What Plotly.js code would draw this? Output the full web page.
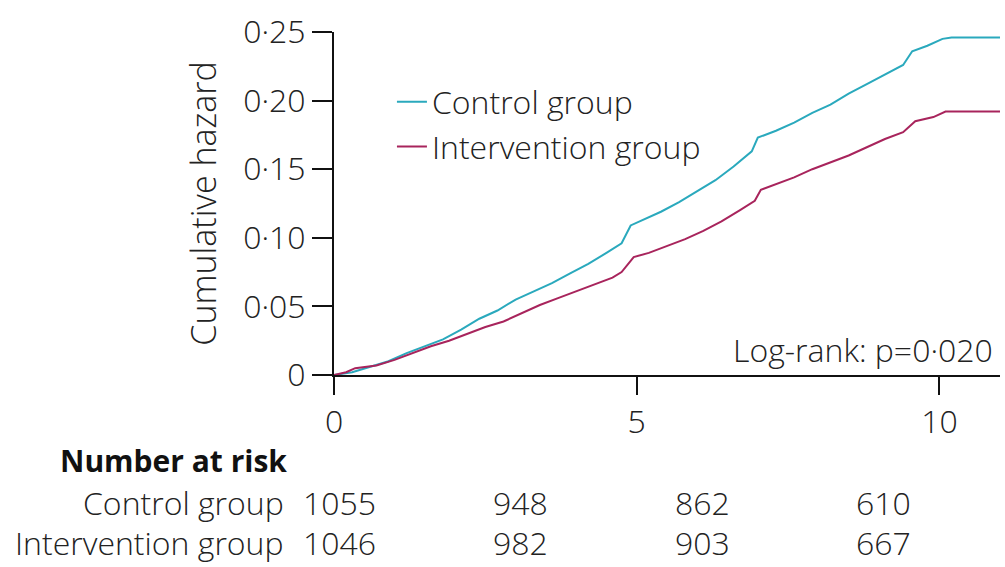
<!DOCTYPE html>
<html>
<head>
<meta charset="utf-8">
<script src="https://cdn.plot.ly/plotly-3.0.1.min.js"></script>
<style>html,body{margin:0;padding:0;background:#fff;}#chart{width:1005px;height:567px;}</style>
</head>
<body>
<div id="chart"></div>
<script>
// Cumulative hazard (years vs hazard)
const controlYears = [0,0.3,0.6,0.9,1.2,1.5,1.8,2.1,2.4,2.7,3.0,3.3,3.6,3.9,4.2,4.5,4.75,4.9,5.1,5.4,5.7,6.0,6.3,6.6,6.9,7.0,7.3,7.6,7.9,8.2,8.5,8.8,9.1,9.4,9.55,9.8,10.05,10.2,11];
const controlHazard = [0,0.002,0.006,0.010,0.016,0.021,0.026,0.033,0.041,0.047,0.055,0.061,0.067,0.074,0.081,0.089,0.096,0.109,0.113,0.119,0.126,0.134,0.142,0.152,0.163,0.173,0.178,0.184,0.191,0.197,0.205,0.212,0.219,0.226,0.236,0.240,0.245,0.246,0.246];
const interventionYears = [0,0.2,0.35,0.7,1.0,1.3,1.6,1.9,2.2,2.5,2.8,3.1,3.4,3.7,4.0,4.3,4.6,4.75,4.95,5.2,5.5,5.8,6.1,6.4,6.7,6.95,7.05,7.3,7.6,7.9,8.2,8.5,8.8,9.1,9.4,9.6,9.9,10.1,11];
const interventionHazard = [0,0.002,0.005,0.007,0.011,0.016,0.021,0.025,0.030,0.035,0.039,0.045,0.051,0.056,0.061,0.066,0.071,0.075,0.086,0.089,0.094,0.099,0.105,0.112,0.120,0.127,0.135,0.139,0.144,0.150,0.155,0.160,0.166,0.172,0.177,0.185,0.188,0.192,0.192];

const yTickVals = [0,0.05,0.10,0.15,0.20,0.25];
const yTickText = ['0','0·05','0·10','0·15','0·20','0·25'];
const xTickVals = [0,5,10];

const riskTimes = [0,3,6,9];
const riskControl = [1055,948,862,610];
const riskIntervention = [1046,982,903,667];
const groupNames = ['Control group','Intervention group'];
const pValueText = 'Log-rank: p=0·020';

const FONT = '"Open Sans", "Noto Sans", sans-serif';
const TXT = '#222';
const FS = 32;
const teal = '#2aa9bd';
const crimson = '#a8245c';
const f = (extra) => Object.assign({family:FONT, size:FS, color:TXT, weight:300}, extra||{});

const traces = [
  {x: controlYears, y: controlHazard, mode:'lines', name: groupNames[0], line:{color:teal, width:2}},
  {x: interventionYears, y: interventionHazard, mode:'lines', name: groupNames[1], line:{color:crimson, width:2}}
];

const row1 = -0.372, row2 = -0.487;
const ann = [];
ann.push({text: pValueText, xref:'paper', yref:'paper', x:0.993, y:0.075, xanchor:'right', yanchor:'middle', showarrow:false, font:f()});
ann.push({text:'<b>Number at risk</b>', xref:'paper', yref:'paper', x:-0.415, y:-0.248, xanchor:'left', yanchor:'middle', showarrow:false, font:{family:FONT, size:30, color:'#111'}});
ann.push({text: groupNames[0], xref:'paper', yref:'paper', x:-0.072, y:row1, xanchor:'right', yanchor:'middle', showarrow:false, font:f()});
ann.push({text: groupNames[1], xref:'paper', yref:'paper', x:-0.072, y:row2, xanchor:'right', yanchor:'middle', showarrow:false, font:f()});
riskTimes.forEach((t,i)=>{
  ann.push({text: String(riskControl[i]), xref:'x', yref:'paper', x:t, xshift:5, y:row1, xanchor:'center', yanchor:'middle', showarrow:false, font:f()});
  ann.push({text: String(riskIntervention[i]), xref:'x', yref:'paper', x:t, xshift:5, y:row2, xanchor:'center', yanchor:'middle', showarrow:false, font:f()});
});

const layout = {
  width:1005, height:567,
  margin:{l:334, r:5, t:32, b:192},
  paper_bgcolor:'#fff', plot_bgcolor:'#fff',
  font:f(),
  showlegend:true,
  legend:{x:0.087, y:0.876, xanchor:'left', yanchor:'top', bgcolor:'rgba(0,0,0,0)', font:f(), tracegroupgap:0},
  xaxis:{range:[0,11], tickvals:xTickVals, ticktext:xTickVals.map(String), ticks:'outside', ticklen:18, tickwidth:2, tickcolor:'#111',
         showline:true, linecolor:'#111', linewidth:2, showgrid:false, zeroline:false, fixedrange:true,
         tickfont:f()},
  yaxis:{range:[0,0.25], tickvals:yTickVals, ticktext:yTickText, ticks:'outside', ticklen:20, tickwidth:2, tickcolor:'#111',
         showline:true, linecolor:'#111', linewidth:2, showgrid:false, zeroline:false, fixedrange:true,
         tickfont:f(),
         title:{text:'Cumulative hazard', standoff:16, font:f({size:34})}},
  annotations: ann
};

Plotly.newPlot('chart', traces, layout, {displayModeBar:false, staticPlot:true});
</script>
</body>
</html>
